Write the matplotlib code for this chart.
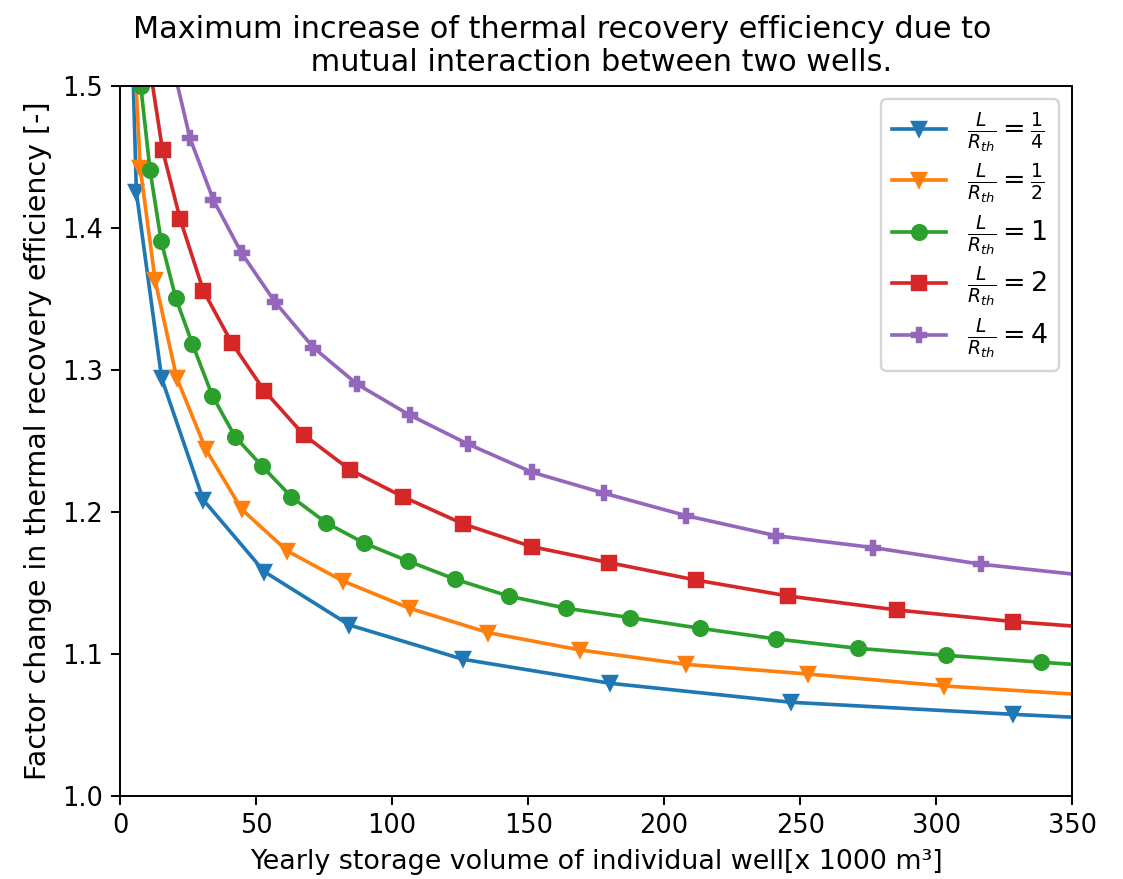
import matplotlib.pyplot as plt

# values (x in 1000 m3, y = factor change)
# the last point of each series is the line end at x=350 (no marker there)
x_q = [1.5, 6.0, 15.3, 30.6, 53.0, 84.3, 126.0, 180.0, 246.7, 328.4, 350]
y_q = [1.73, 1.425, 1.294, 1.2085, 1.158, 1.1204, 1.0963, 1.0794, 1.066, 1.0575, 1.0555]

x_h = [4.2, 7.4, 12.9, 20.8, 31.5, 44.7, 61.5, 81.9, 106.4, 135.4, 169.1, 208.0,
       252.7, 302.9, 350]
y_h = [1.564, 1.4425, 1.363, 1.2946, 1.2442, 1.2019, 1.1725, 1.1514, 1.1322, 1.115,
       1.1028, 1.0927, 1.0859, 1.0775, 1.0718]

x_1 = [5.0, 7.6, 11.0, 15.1, 20.5, 26.6, 33.9, 42.3, 52.1, 62.9, 75.7, 89.8, 105.8,
       123.2, 142.8, 164.0, 187.5, 213.2, 241.1, 271.1, 303.5, 338.6, 350]
y_1 = [1.58, 1.50, 1.4408, 1.3908, 1.3505, 1.3183, 1.2819, 1.253, 1.2324, 1.2108,
       1.1925, 1.178, 1.1655, 1.1526, 1.1408, 1.1322, 1.1256, 1.1181, 1.1106, 1.104,
       1.0991, 1.0942, 1.0927]

x_2 = [11.1, 15.6, 22.1, 30.6, 41.0, 53.0, 67.6, 84.6, 103.9, 126.2, 151.3, 179.8,
       211.6, 245.7, 285.5, 328.4, 350]
y_2 = [1.511, 1.4549, 1.4061, 1.3559, 1.3192, 1.2854, 1.2542, 1.2296, 1.2108, 1.1915,
       1.1756, 1.1643, 1.1521, 1.1408, 1.131, 1.1228, 1.1197]

x_4 = [18.7, 25.7, 34.3, 44.7, 57.0, 71.1, 87.2, 106.4, 127.8, 151.4, 177.9, 208.1,
       241.1, 276.9, 316.5, 350]
y_4 = [1.52, 1.4632, 1.4197, 1.3822, 1.3477, 1.3157, 1.2899, 1.2683, 1.2479, 1.228,
       1.2132, 1.1974, 1.1833, 1.1749, 1.1632, 1.1563]

series = [
    (x_q, y_q, 'v', r'$\frac{L}{R_{th}} = \frac{1}{4}$'),
    (x_h, y_h, 'v', r'$\frac{L}{R_{th}} = \frac{1}{2}$'),
    (x_1, y_1, 'o', r'$\frac{L}{R_{th}} = 1$'),
    (x_2, y_2, 's', r'$\frac{L}{R_{th}} = 2$'),
    (x_4, y_4, 'P', r'$\frac{L}{R_{th}} = 4$'),
]

fig = plt.figure(figsize=(6.4, 5.009), dpi=175.5)
ax = fig.add_axes([0.1069, 0.0944, 0.8477, 0.8078])

for xs, ys, marker, label in series:
    ax.plot(xs, ys, marker=marker, label=label, markevery=slice(0, len(xs) - 1))

ax.set_xlim(0, 350)
ax.set_ylim(1.0, 1.5)
ax.set_yticks([1.0, 1.1, 1.2, 1.3, 1.4, 1.5])
ax.tick_params(labelsize=10.5)
ax.legend(loc='upper right', fontsize=11, labelspacing=0.3)
ax.set_xlabel('Yearly storage volume of individual well[x 1000 m³]', fontsize=11.0)
ax.set_ylabel('Factor change in thermal recovery efficiency [-]', fontsize=11.7)
# the original title string carries trailing spaces on line one
ax.set_title('Maximum increase of thermal recovery efficiency due to       \n'
             ' mutual interaction between two wells.', fontsize=12.4)

fig.savefig('out.png', dpi=175.5)
